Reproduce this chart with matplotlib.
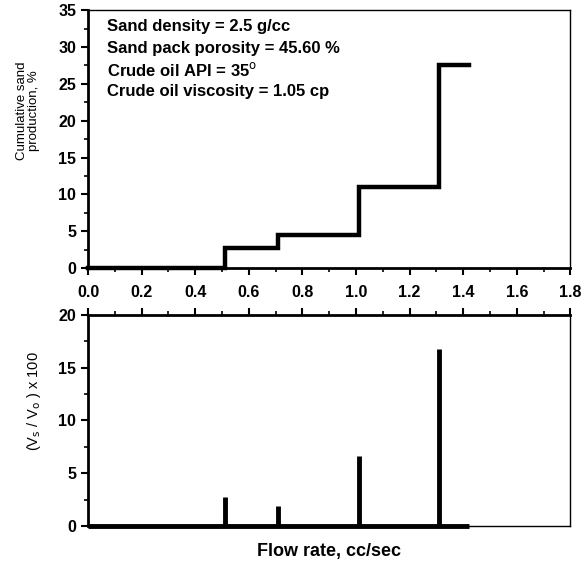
import numpy as np
import matplotlib.pyplot as plt
from matplotlib.ticker import MultipleLocator

plt.rcParams['font.family'] = ['Liberation Sans', 'DejaVu Sans']

# step edges (flow rate, cc/sec) and cumulative sand production (%)
flow_edges = [0.0, 0.51, 0.71, 1.01, 1.31, 1.42]
cum_sand = [0.0, 2.7, 4.5, 11.0, 27.5]

# sand volume ratio spikes
spike_flow = [0.51, 0.71, 1.01, 1.31]
spike_vals = [2.7, 1.9, 6.65, 16.75]

notes = ["Sand density = 2.5 g/cc",
         "Sand pack porosity = 45.60 %",
         "Crude oil API = 35$^{\\mathrm{o}}$",
         "Crude oil viscosity = 1.05 cp"]

fig = plt.figure(figsize=(5.84, 5.66), dpi=100)
ax1 = fig.add_axes([0.1507, 0.5265, 0.826, 0.4555])
ax2 = fig.add_axes([0.1507, 0.0707, 0.826, 0.3728])

# top panel: stairs
xs = []
ys = []
for i, v in enumerate(cum_sand):
    xs += [flow_edges[i], flow_edges[i + 1]]
    ys += [v, v]
ax1.plot(xs, ys, color='black', lw=3.2, solid_joinstyle='miter', clip_on=False)
ax1.set_xlim(0, 1.8)
ax1.set_ylim(0, 35)
ax1.xaxis.set_major_locator(MultipleLocator(0.2))
ax1.xaxis.set_minor_locator(MultipleLocator(0.1))
ax1.yaxis.set_major_locator(MultipleLocator(5))
ax1.yaxis.set_minor_locator(MultipleLocator(2.5))
ax1.set_xticks(np.arange(0, 1.81, 0.2))
ax1.set_xticklabels(['%.1f' % t for t in np.arange(0, 1.81, 0.2)])
ax1.set_ylabel("Cumulative sand\nproduction, %", fontsize=9.5, linespacing=1.0)
ax1.yaxis.set_label_coords(-0.10, 0.61)

ax1.spines['left'].set_linewidth(2.0)
ax1.spines['bottom'].set_linewidth(2.0)
ax1.spines['top'].set_linewidth(1.0)
ax1.spines['right'].set_linewidth(1.0)

for j, t in enumerate(notes):
    ax1.text(0.04, 0.935 - j * 0.083, t, transform=ax1.transAxes,
             fontsize=12, fontweight='bold', va='center', ha='left')

# bottom panel: spikes
ax2.hlines(0, flow_edges[0], flow_edges[-1], color='black', lw=3.5, clip_on=False)
ax2.vlines(spike_flow, 0, spike_vals, color='black', lw=3.5)
ax2.set_xlim(0, 1.8)
ax2.set_ylim(0, 20)
ax2.xaxis.set_major_locator(MultipleLocator(0.2))
ax2.xaxis.set_minor_locator(MultipleLocator(0.1))
ax2.yaxis.set_major_locator(MultipleLocator(5))
ax2.yaxis.set_minor_locator(MultipleLocator(2.5))
ax2.xaxis.tick_top()
ax2.tick_params(axis='x', which='both', labeltop=False)
ax2.set_ylabel("(V$_\\mathrm{s}$ / V$_\\mathrm{o}$ ) x 100", fontsize=10.5)
ax2.yaxis.set_label_coords(-0.093, 0.59)
ax2.set_xlabel("Flow rate, cc/sec", fontsize=13, fontweight='bold', labelpad=12)

ax2.spines['left'].set_linewidth(2.0)
ax2.spines['top'].set_linewidth(2.0)
ax2.spines['bottom'].set_linewidth(1.0)
ax2.spines['right'].set_linewidth(1.0)

for ax in (ax1, ax2):
    ax.tick_params(which='major', length=5, width=1.5, direction='out', labelsize=11.5)
    ax.tick_params(which='minor', length=3, width=1.2, direction='out')
    for lab in ax.get_xticklabels() + ax.get_yticklabels():
        lab.set_fontweight('bold')
ax1.tick_params(axis='x', pad=7)

fig.savefig('out.png', dpi=100)
